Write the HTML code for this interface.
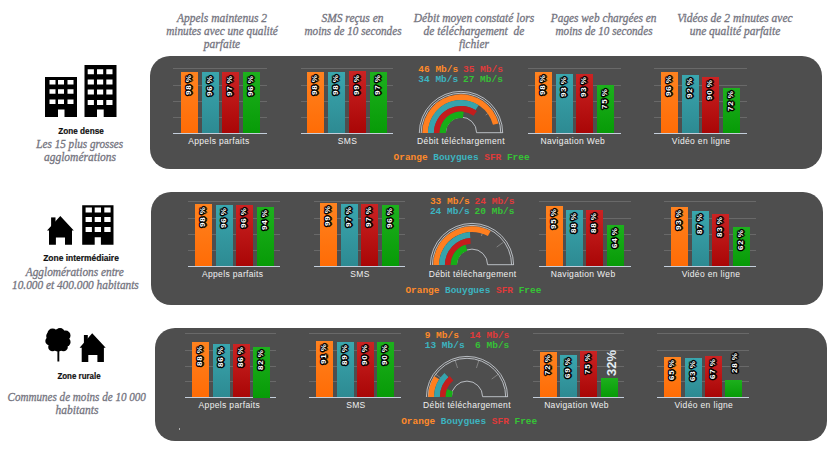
<!DOCTYPE html><html><head><meta charset="utf-8"><style>
html,body{margin:0;padding:0;background:#fff;}
body{width:833px;height:460px;position:relative;overflow:hidden;font-family:"Liberation Sans",sans-serif;}
.ab{position:absolute;}
.hd{position:absolute;font-family:"Liberation Serif",serif;font-style:italic;color:#75757f;-webkit-text-stroke:0.3px #75757f;font-size:11.5px;line-height:13px;text-align:center;white-space:nowrap;}
.zt{position:absolute;font-family:"Liberation Sans",sans-serif;font-weight:bold;color:#111;-webkit-text-stroke:0.2px #111;font-size:9px;line-height:10px;text-align:center;white-space:nowrap;transform:scaleX(0.91);}
.zs{position:absolute;font-family:"Liberation Serif",serif;font-style:italic;color:#75757f;-webkit-text-stroke:0.3px #75757f;font-size:11.5px;line-height:13px;text-align:center;white-space:nowrap;}
.pn{position:absolute;background:#4e4e4e;border-radius:20px;width:672px;height:113px;}
.gl{position:absolute;height:1px;background:#696969;}
.ax{position:absolute;height:1px;background:#c4cedb;}
.bar{position:absolute;width:17px;}
.bl{position:absolute;color:#fff;font-weight:bold;font-size:8px;line-height:9px;white-space:nowrap;transform-origin:0 0;transform:rotate(-90deg);
 text-shadow:1px 0 0 #000,-1px 0 0 #000,0 1px 0 #000,0 -1px 0 #000,1px 1px 0 #000,-1px -1px 0 #000,1px -1px 0 #000,-1px 1px 0 #000,1.5px 0 0 #000,-1.5px 0 0 #000,0 1.5px 0 #000,0 -1.5px 0 #000,0 0 2px #000;}
.cl{position:absolute;color:#f0f0f0;font-size:8.5px;line-height:8px;white-space:nowrap;text-align:center;width:120px;letter-spacing:0.35px;}
.mb{position:absolute;font-family:"Liberation Mono",monospace;font-weight:bold;font-size:9.5px;line-height:10px;white-space:nowrap;}
</style></head><body>

<div class="hd" style="left:142px;top:12.3px;width:160px">Appels maintenus 2<br><span style="display:inline-block;transform:scaleX(0.98)">minutes avec une qualité</span><br>parfaite</div>
<div class="hd" style="left:272.5px;top:12.3px;width:160px">SMS reçus en<br><span style="display:inline-block;transform:scaleX(0.97)">moins de 10 secondes</span></div>
<div class="hd" style="left:394px;top:12.3px;width:160px">Débit moyen constaté lors<br>de téléchargement&nbsp; de<br>fichier</div>
<div class="hd" style="left:523.5px;top:12.3px;width:160px"><span style="display:inline-block;transform:scaleX(0.985)">Pages web chargées en</span><br><span style="display:inline-block;transform:scaleX(0.97)">moins de 10 secondes</span></div>
<div class="hd" style="left:655px;top:12.3px;width:160px">Vidéos de 2 minutes avec<br>une qualité parfaite</div>
<div class="pn" style="left:150px;top:55.5px"></div>
<div class="pn" style="left:151.3px;top:192.1px"></div>
<div class="pn" style="left:154.7px;top:327.6px"></div>
<div class="gl" style="left:173.2px;top:67.9px;width:93.8px"></div>
<div class="gl" style="left:173.2px;top:84.9px;width:93.8px"></div>
<div class="gl" style="left:173.2px;top:100.9px;width:93.8px"></div>
<div class="gl" style="left:173.2px;top:116.9px;width:93.8px"></div>
<div class="ax" style="left:173.2px;top:132.9px;width:93.8px"></div>
<div class="bar" style="left:180.8px;top:72.0px;height:61.4px;background:linear-gradient(#ff821f,#ff6c06)"></div>
<div class="bl" style="left:183.8px;top:95.3px"><span style="letter-spacing:0.8px">98</span>&nbsp;%</div>
<div class="bar" style="left:202.0px;top:72.3px;height:61.1px;background:linear-gradient(#3aa6ae,#2d8a92)"></div>
<div class="bl" style="left:205.0px;top:95.6px"><span style="letter-spacing:0.8px">96</span>&nbsp;%</div>
<div class="bar" style="left:221.9px;top:72.2px;height:61.2px;background:linear-gradient(#cb2323,#a90606)"></div>
<div class="bl" style="left:224.9px;top:95.5px"><span style="letter-spacing:0.8px">97</span>&nbsp;%</div>
<div class="bar" style="left:243.2px;top:72.2px;height:61.2px;background:linear-gradient(#1db01d,#079b07)"></div>
<div class="bl" style="left:246.2px;top:95.5px"><span style="letter-spacing:0.8px">96</span>&nbsp;%</div>
<div class="cl" style="left:158.9px;top:137.1px">Appels parfaits</div>
<div class="gl" style="left:300.9px;top:67.9px;width:91.9px"></div>
<div class="gl" style="left:300.9px;top:84.9px;width:91.9px"></div>
<div class="gl" style="left:300.9px;top:100.9px;width:91.9px"></div>
<div class="gl" style="left:300.9px;top:116.9px;width:91.9px"></div>
<div class="ax" style="left:300.9px;top:132.9px;width:91.9px"></div>
<div class="bar" style="left:307.3px;top:71.7px;height:61.7px;background:linear-gradient(#ff821f,#ff6c06)"></div>
<div class="bl" style="left:310.3px;top:95.0px"><span style="letter-spacing:0.8px">98</span>&nbsp;%</div>
<div class="bar" style="left:328.3px;top:72.1px;height:61.3px;background:linear-gradient(#3aa6ae,#2d8a92)"></div>
<div class="bl" style="left:331.3px;top:95.4px"><span style="letter-spacing:0.8px">98</span>&nbsp;%</div>
<div class="bar" style="left:349.0px;top:71.2px;height:62.2px;background:linear-gradient(#cb2323,#a90606)"></div>
<div class="bl" style="left:352.0px;top:94.5px"><span style="letter-spacing:0.8px">99</span>&nbsp;%</div>
<div class="bar" style="left:370.0px;top:72.1px;height:61.3px;background:linear-gradient(#1db01d,#079b07)"></div>
<div class="bl" style="left:373.0px;top:95.4px"><span style="letter-spacing:0.8px">97</span>&nbsp;%</div>
<div class="cl" style="left:287.6px;top:137.1px">SMS</div>
<div class="gl" style="left:527.9px;top:67.9px;width:93.4px"></div>
<div class="gl" style="left:527.9px;top:84.9px;width:93.4px"></div>
<div class="gl" style="left:527.9px;top:100.9px;width:93.4px"></div>
<div class="gl" style="left:527.9px;top:116.9px;width:93.4px"></div>
<div class="ax" style="left:527.9px;top:132.9px;width:93.4px"></div>
<div class="bar" style="left:535.2px;top:71.7px;height:61.7px;background:linear-gradient(#ff821f,#ff6c06)"></div>
<div class="bl" style="left:538.2px;top:95.0px"><span style="letter-spacing:0.8px">98</span>&nbsp;%</div>
<div class="bar" style="left:555.9px;top:73.7px;height:59.7px;background:linear-gradient(#3aa6ae,#2d8a92)"></div>
<div class="bl" style="left:558.9px;top:97.0px"><span style="letter-spacing:0.8px">93</span>&nbsp;%</div>
<div class="bar" style="left:576.3px;top:73.7px;height:59.7px;background:linear-gradient(#cb2323,#a90606)"></div>
<div class="bl" style="left:579.3px;top:97.0px"><span style="letter-spacing:0.8px">93</span>&nbsp;%</div>
<div class="bar" style="left:597.0px;top:85.4px;height:48.0px;background:linear-gradient(#1db01d,#079b07)"></div>
<div class="bl" style="left:600.0px;top:108.7px"><span style="letter-spacing:0.8px">75</span>&nbsp;%</div>
<div class="cl" style="left:512.8px;top:137.1px">Navigation Web</div>
<div class="gl" style="left:653.8px;top:67.9px;width:93.2px"></div>
<div class="gl" style="left:653.8px;top:84.9px;width:93.2px"></div>
<div class="gl" style="left:653.8px;top:100.9px;width:93.2px"></div>
<div class="gl" style="left:653.8px;top:116.9px;width:93.2px"></div>
<div class="ax" style="left:653.8px;top:132.9px;width:93.2px"></div>
<div class="bar" style="left:661.0px;top:72.3px;height:61.1px;background:linear-gradient(#ff821f,#ff6c06)"></div>
<div class="bl" style="left:664.0px;top:95.6px"><span style="letter-spacing:0.8px">96</span>&nbsp;%</div>
<div class="bar" style="left:682.0px;top:74.7px;height:58.7px;background:linear-gradient(#3aa6ae,#2d8a92)"></div>
<div class="bl" style="left:685.0px;top:98.0px"><span style="letter-spacing:0.8px">92</span>&nbsp;%</div>
<div class="bar" style="left:702.0px;top:77.0px;height:56.4px;background:linear-gradient(#cb2323,#a90606)"></div>
<div class="bl" style="left:705.0px;top:100.3px"><span style="letter-spacing:0.8px">90</span>&nbsp;%</div>
<div class="bar" style="left:722.9px;top:88.0px;height:45.4px;background:linear-gradient(#1db01d,#079b07)"></div>
<div class="bl" style="left:725.9px;top:111.3px"><span style="letter-spacing:0.8px">72</span>&nbsp;%</div>
<div class="cl" style="left:641.1px;top:137.1px">Vidéo en ligne</div>
<div class="gl" style="left:187.8px;top:200.9px;width:92.2px"></div>
<div class="gl" style="left:187.8px;top:217.9px;width:92.2px"></div>
<div class="gl" style="left:187.8px;top:233.9px;width:92.2px"></div>
<div class="gl" style="left:187.8px;top:249.9px;width:92.2px"></div>
<div class="ax" style="left:187.8px;top:265.9px;width:92.2px"></div>
<div class="bar" style="left:194.8px;top:203.9px;height:62.5px;background:linear-gradient(#ff821f,#ff6c06)"></div>
<div class="bl" style="left:197.8px;top:227.2px"><span style="letter-spacing:0.8px">98</span>&nbsp;%</div>
<div class="bar" style="left:215.9px;top:205.0px;height:61.4px;background:linear-gradient(#3aa6ae,#2d8a92)"></div>
<div class="bl" style="left:218.9px;top:228.3px"><span style="letter-spacing:0.8px">96</span>&nbsp;%</div>
<div class="bar" style="left:236.0px;top:205.0px;height:61.4px;background:linear-gradient(#cb2323,#a90606)"></div>
<div class="bl" style="left:239.0px;top:228.3px"><span style="letter-spacing:0.8px">96</span>&nbsp;%</div>
<div class="bar" style="left:256.7px;top:207.0px;height:59.4px;background:linear-gradient(#1db01d,#079b07)"></div>
<div class="bl" style="left:259.7px;top:230.3px"><span style="letter-spacing:0.8px">94</span>&nbsp;%</div>
<div class="cl" style="left:172.7px;top:270.1px">Appels parfaits</div>
<div class="gl" style="left:313.7px;top:200.9px;width:91.3px"></div>
<div class="gl" style="left:313.7px;top:217.9px;width:91.3px"></div>
<div class="gl" style="left:313.7px;top:233.9px;width:91.3px"></div>
<div class="gl" style="left:313.7px;top:249.9px;width:91.3px"></div>
<div class="ax" style="left:313.7px;top:265.9px;width:91.3px"></div>
<div class="bar" style="left:320.0px;top:202.6px;height:63.8px;background:linear-gradient(#ff821f,#ff6c06)"></div>
<div class="bl" style="left:323.0px;top:225.9px"><span style="letter-spacing:0.8px">99</span>&nbsp;%</div>
<div class="bar" style="left:340.9px;top:203.7px;height:62.7px;background:linear-gradient(#3aa6ae,#2d8a92)"></div>
<div class="bl" style="left:343.9px;top:227.0px"><span style="letter-spacing:0.8px">97</span>&nbsp;%</div>
<div class="bar" style="left:361.0px;top:203.7px;height:62.7px;background:linear-gradient(#cb2323,#a90606)"></div>
<div class="bl" style="left:364.0px;top:227.0px"><span style="letter-spacing:0.8px">97</span>&nbsp;%</div>
<div class="bar" style="left:382.0px;top:204.8px;height:61.6px;background:linear-gradient(#1db01d,#079b07)"></div>
<div class="bl" style="left:385.0px;top:228.1px"><span style="letter-spacing:0.8px">96</span>&nbsp;%</div>
<div class="cl" style="left:300.1px;top:270.1px">SMS</div>
<div class="gl" style="left:538.7px;top:200.9px;width:92.3px"></div>
<div class="gl" style="left:538.7px;top:217.9px;width:92.3px"></div>
<div class="gl" style="left:538.7px;top:233.9px;width:92.3px"></div>
<div class="gl" style="left:538.7px;top:249.9px;width:92.3px"></div>
<div class="ax" style="left:538.7px;top:265.9px;width:92.3px"></div>
<div class="bar" style="left:545.7px;top:205.7px;height:60.7px;background:linear-gradient(#ff821f,#ff6c06)"></div>
<div class="bl" style="left:548.7px;top:229.0px"><span style="letter-spacing:0.8px">95</span>&nbsp;%</div>
<div class="bar" style="left:566.4px;top:209.9px;height:56.5px;background:linear-gradient(#3aa6ae,#2d8a92)"></div>
<div class="bl" style="left:569.4px;top:233.2px"><span style="letter-spacing:0.8px">88</span>&nbsp;%</div>
<div class="bar" style="left:586.2px;top:209.9px;height:56.5px;background:linear-gradient(#cb2323,#a90606)"></div>
<div class="bl" style="left:589.2px;top:233.2px"><span style="letter-spacing:0.8px">88</span>&nbsp;%</div>
<div class="bar" style="left:606.9px;top:225.0px;height:41.4px;background:linear-gradient(#1db01d,#079b07)"></div>
<div class="bl" style="left:609.9px;top:248.3px"><span style="letter-spacing:0.8px">64</span>&nbsp;%</div>
<div class="cl" style="left:523.1px;top:270.1px">Navigation Web</div>
<div class="gl" style="left:664.3px;top:200.9px;width:91.9px"></div>
<div class="gl" style="left:664.3px;top:217.9px;width:91.9px"></div>
<div class="gl" style="left:664.3px;top:233.9px;width:91.9px"></div>
<div class="gl" style="left:664.3px;top:249.9px;width:91.9px"></div>
<div class="ax" style="left:664.3px;top:265.9px;width:91.9px"></div>
<div class="bar" style="left:671.1px;top:206.8px;height:59.6px;background:linear-gradient(#ff821f,#ff6c06)"></div>
<div class="bl" style="left:674.1px;top:230.1px"><span style="letter-spacing:0.8px">93</span>&nbsp;%</div>
<div class="bar" style="left:692.2px;top:210.9px;height:55.5px;background:linear-gradient(#3aa6ae,#2d8a92)"></div>
<div class="bl" style="left:695.2px;top:234.2px"><span style="letter-spacing:0.8px">87</span>&nbsp;%</div>
<div class="bar" style="left:712.0px;top:213.6px;height:52.8px;background:linear-gradient(#cb2323,#a90606)"></div>
<div class="bl" style="left:715.0px;top:236.9px"><span style="letter-spacing:0.8px">83</span>&nbsp;%</div>
<div class="bar" style="left:732.5px;top:227.0px;height:39.4px;background:linear-gradient(#1db01d,#079b07)"></div>
<div class="bl" style="left:735.5px;top:250.3px"><span style="letter-spacing:0.8px">62</span>&nbsp;%</div>
<div class="cl" style="left:651.0px;top:270.1px">Vidéo en ligne</div>
<div class="gl" style="left:185.0px;top:332.8px;width:91.0px"></div>
<div class="gl" style="left:185.0px;top:349.7px;width:91.0px"></div>
<div class="gl" style="left:185.0px;top:365.7px;width:91.0px"></div>
<div class="gl" style="left:185.0px;top:381.0px;width:91.0px"></div>
<div class="ax" style="left:185.0px;top:397.0px;width:91.0px"></div>
<div class="bar" style="left:191.9px;top:342.3px;height:55.2px;background:linear-gradient(#ff821f,#ff6c06)"></div>
<div class="bl" style="left:194.9px;top:365.6px"><span style="letter-spacing:0.8px">88</span>&nbsp;%</div>
<div class="bar" style="left:212.5px;top:344.1px;height:53.4px;background:linear-gradient(#3aa6ae,#2d8a92)"></div>
<div class="bl" style="left:215.5px;top:367.4px"><span style="letter-spacing:0.8px">86</span>&nbsp;%</div>
<div class="bar" style="left:232.6px;top:344.1px;height:53.4px;background:linear-gradient(#cb2323,#a90606)"></div>
<div class="bl" style="left:235.6px;top:367.4px"><span style="letter-spacing:0.8px">86</span>&nbsp;%</div>
<div class="bar" style="left:253.2px;top:347.0px;height:50.5px;background:linear-gradient(#1db01d,#079b07)"></div>
<div class="bl" style="left:256.2px;top:370.3px"><span style="letter-spacing:0.8px">82</span>&nbsp;%</div>
<div class="cl" style="left:169.3px;top:401.2px">Appels parfaits</div>
<div class="gl" style="left:309.2px;top:332.8px;width:92.0px"></div>
<div class="gl" style="left:309.2px;top:349.7px;width:92.0px"></div>
<div class="gl" style="left:309.2px;top:365.7px;width:92.0px"></div>
<div class="gl" style="left:309.2px;top:381.0px;width:92.0px"></div>
<div class="ax" style="left:309.2px;top:397.0px;width:92.0px"></div>
<div class="bar" style="left:316.0px;top:340.8px;height:56.7px;background:linear-gradient(#ff821f,#ff6c06)"></div>
<div class="bl" style="left:319.0px;top:364.1px"><span style="letter-spacing:0.8px">91</span>&nbsp;%</div>
<div class="bar" style="left:336.8px;top:342.1px;height:55.4px;background:linear-gradient(#3aa6ae,#2d8a92)"></div>
<div class="bl" style="left:339.8px;top:365.4px"><span style="letter-spacing:0.8px">89</span>&nbsp;%</div>
<div class="bar" style="left:357.1px;top:342.1px;height:55.4px;background:linear-gradient(#cb2323,#a90606)"></div>
<div class="bl" style="left:360.1px;top:365.4px"><span style="letter-spacing:0.8px">90</span>&nbsp;%</div>
<div class="bar" style="left:377.3px;top:342.1px;height:55.4px;background:linear-gradient(#1db01d,#079b07)"></div>
<div class="bl" style="left:380.3px;top:365.4px"><span style="letter-spacing:0.8px">90</span>&nbsp;%</div>
<div class="cl" style="left:295.9px;top:401.2px">SMS</div>
<div class="gl" style="left:532.8px;top:332.8px;width:91.0px"></div>
<div class="gl" style="left:532.8px;top:349.7px;width:91.0px"></div>
<div class="gl" style="left:532.8px;top:365.7px;width:91.0px"></div>
<div class="gl" style="left:532.8px;top:381.0px;width:91.0px"></div>
<div class="ax" style="left:532.8px;top:397.0px;width:91.0px"></div>
<div class="bar" style="left:540.0px;top:351.9px;height:45.6px;background:linear-gradient(#ff821f,#ff6c06)"></div>
<div class="bl" style="left:543.0px;top:375.2px"><span style="letter-spacing:0.8px">72</span>&nbsp;%</div>
<div class="bar" style="left:560.2px;top:354.9px;height:42.6px;background:linear-gradient(#3aa6ae,#2d8a92)"></div>
<div class="bl" style="left:563.2px;top:378.2px"><span style="letter-spacing:0.8px">69</span>&nbsp;%</div>
<div class="bar" style="left:580.4px;top:350.9px;height:46.6px;background:linear-gradient(#cb2323,#a90606)"></div>
<div class="bl" style="left:583.4px;top:374.2px"><span style="letter-spacing:0.8px">75</span>&nbsp;%</div>
<div class="bar" style="left:600.9px;top:377.9px;height:19.6px;background:linear-gradient(#1db01d,#079b07)"></div>
<div class="cl" style="left:516.5px;top:401.2px">Navigation Web</div>
<div class="gl" style="left:657.4px;top:332.8px;width:91.4px"></div>
<div class="gl" style="left:657.4px;top:349.7px;width:91.4px"></div>
<div class="gl" style="left:657.4px;top:365.7px;width:91.4px"></div>
<div class="gl" style="left:657.4px;top:381.0px;width:91.4px"></div>
<div class="ax" style="left:657.4px;top:397.0px;width:91.4px"></div>
<div class="bar" style="left:664.1px;top:356.8px;height:40.7px;background:linear-gradient(#ff821f,#ff6c06)"></div>
<div class="bl" style="left:667.1px;top:380.1px"><span style="letter-spacing:0.8px">65</span>&nbsp;%</div>
<div class="bar" style="left:684.8px;top:357.8px;height:39.7px;background:linear-gradient(#3aa6ae,#2d8a92)"></div>
<div class="bl" style="left:687.8px;top:381.1px"><span style="letter-spacing:0.8px">63</span>&nbsp;%</div>
<div class="bar" style="left:705.2px;top:355.8px;height:41.7px;background:linear-gradient(#cb2323,#a90606)"></div>
<div class="bl" style="left:708.2px;top:379.1px"><span style="letter-spacing:0.8px">67</span>&nbsp;%</div>
<div class="bar" style="left:725.0px;top:380.3px;height:17.2px;background:linear-gradient(#1db01d,#079b07)"></div>
<div class="cl" style="left:643.8px;top:401.2px">Vidéo en ligne</div>
<svg class="ab" style="left:410.5px;top:82.69999999999999px" width="100" height="52" viewBox="410.5 82.69999999999999 100 52"><line x1="485.18" y1="114.77" x2="492.05" y2="109.78" stroke="#8e8e8e" stroke-width="0.8"/><line x1="469.93" y1="103.69" x2="472.55" y2="95.61" stroke="#8e8e8e" stroke-width="0.8"/><line x1="451.07" y1="103.69" x2="448.45" y2="95.61" stroke="#8e8e8e" stroke-width="0.8"/><line x1="435.82" y1="114.77" x2="428.95" y2="109.78" stroke="#8e8e8e" stroke-width="0.8"/><path d="M418.8,132.7 A41.7,41.7 0 0 1 502.2,132.7" fill="none" stroke="#c5c9cf" stroke-width="0.9"/><path d="M420.7,132.7 A39.8,39.8 0 0 1 500.3,132.7" fill="none" stroke="#c5c9cf" stroke-width="0.9"/><path d="M444.9,132.39999999999998 A15.6,15.6 0 0 1 476.1,132.39999999999998 L502.2,132.39999999999998" fill="none" stroke="#c5c9cf" stroke-width="0.9"/><path d="M421.80,132.70 A38.7,38.7 0 0 1 497.98,123.08 L492.46,124.49 A33,33 0 0 0 427.50,132.70 Z" fill="#ff7f1f"/><path d="M427.50,132.70 A33,33 0 0 1 478.18,104.84 L475.02,109.82 A27.1,27.1 0 0 0 433.40,132.70 Z" fill="#36a3ac"/><path d="M433.40,132.70 A27.1,27.1 0 0 1 476.43,110.78 L473.08,115.39 A21.4,21.4 0 0 0 439.10,132.70 Z" fill="#c41d1d"/><path d="M439.10,132.70 A21.4,21.4 0 0 1 463.18,111.47 L462.39,117.72 A15.1,15.1 0 0 0 445.40,132.70 Z" fill="#17ad17"/></svg>
<div class="mb" style="left:418.3px;top:65.2px;color:#ff8a2a">46 Mb/s</div>
<div class="mb" style="left:452.9px;top:65.2px;width:50px;text-align:right;color:#e03a3a">35 Mb/s</div>
<div class="mb" style="left:418.3px;top:75.1px;color:#3cb4c0">34 Mb/s</div>
<div class="mb" style="left:452.9px;top:75.1px;width:50px;text-align:right;color:#36c236">27 Mb/s</div>
<div class="cl" style="left:401.0px;top:136.5px">Débit téléchargement</div>
<div class="mb" style="left:393.6px;top:152.8px;font-size:9.45px"><span style="color:#ff8a2a">Orange</span>&nbsp;<span style="color:#3cb4c0">Bouygues</span>&nbsp;<span style="color:#e03a3a">SFR</span>&nbsp;<span style="color:#36c236">Free</span></div>
<svg class="ab" style="left:422.1px;top:215.3px" width="100" height="52" viewBox="422.1 215.3 100 52"><line x1="496.78" y1="247.37" x2="503.65" y2="242.38" stroke="#8e8e8e" stroke-width="0.8"/><line x1="481.53" y1="236.29" x2="484.15" y2="228.21" stroke="#8e8e8e" stroke-width="0.8"/><line x1="462.67" y1="236.29" x2="460.05" y2="228.21" stroke="#8e8e8e" stroke-width="0.8"/><line x1="447.42" y1="247.37" x2="440.55" y2="242.38" stroke="#8e8e8e" stroke-width="0.8"/><path d="M430.5,265.3 A41.6,41.6 0 0 1 513.7,265.3" fill="none" stroke="#c5c9cf" stroke-width="0.9"/><path d="M432.5,265.3 A39.6,39.6 0 0 1 511.70000000000005,265.3" fill="none" stroke="#c5c9cf" stroke-width="0.9"/><path d="M456.5,265.0 A15.6,15.6 0 0 1 487.70000000000005,265.0 L513.7,265.0" fill="none" stroke="#c5c9cf" stroke-width="0.9"/><path d="M433.40,265.30 A38.7,38.7 0 0 1 490.74,231.39 L488.00,236.38 A33,33 0 0 0 439.10,265.30 Z" fill="#ff7f1f"/><path d="M439.10,265.30 A33,33 0 0 1 470.03,232.37 L470.40,238.25 A27.1,27.1 0 0 0 445.00,265.30 Z" fill="#36a3ac"/><path d="M445.00,265.30 A27.1,27.1 0 0 1 470.40,238.25 L470.76,243.94 A21.4,21.4 0 0 0 450.70,265.30 Z" fill="#c41d1d"/><path d="M450.70,265.30 A21.4,21.4 0 0 1 465.49,244.95 L467.43,250.94 A15.1,15.1 0 0 0 457.00,265.30 Z" fill="#17ad17"/></svg>
<div class="mb" style="left:429.9px;top:197.4px;color:#ff8a2a">33 Mb/s</div>
<div class="mb" style="left:464.5px;top:197.4px;width:50px;text-align:right;color:#e03a3a">24 Mb/s</div>
<div class="mb" style="left:429.9px;top:207.3px;color:#3cb4c0">24 Mb/s</div>
<div class="mb" style="left:464.5px;top:207.3px;width:50px;text-align:right;color:#36c236">20 Mb/s</div>
<div class="cl" style="left:412.6px;top:269.8px">Débit téléchargement</div>
<div class="mb" style="left:405.4px;top:286px;font-size:9.45px"><span style="color:#ff8a2a">Orange</span>&nbsp;<span style="color:#3cb4c0">Bouygues</span>&nbsp;<span style="color:#e03a3a">SFR</span>&nbsp;<span style="color:#36c236">Free</span></div>
<svg class="ab" style="left:416.9px;top:346.8px" width="100" height="52" viewBox="416.9 346.8 100 52"><line x1="491.58" y1="378.87" x2="498.45" y2="373.88" stroke="#8e8e8e" stroke-width="0.8"/><line x1="476.33" y1="367.79" x2="478.95" y2="359.71" stroke="#8e8e8e" stroke-width="0.8"/><line x1="457.47" y1="367.79" x2="454.85" y2="359.71" stroke="#8e8e8e" stroke-width="0.8"/><line x1="442.22" y1="378.87" x2="435.35" y2="373.88" stroke="#8e8e8e" stroke-width="0.8"/><path d="M426.29999999999995,396.8 A40.6,40.6 0 0 1 507.5,396.8" fill="none" stroke="#c5c9cf" stroke-width="0.9"/><path d="M428.2,396.8 A38.7,38.7 0 0 1 505.59999999999997,396.8" fill="none" stroke="#c5c9cf" stroke-width="0.9"/><path d="M451.29999999999995,396.5 A15.6,15.6 0 0 1 482.5,396.5 L507.5,396.5" fill="none" stroke="#c5c9cf" stroke-width="0.9"/><path d="M428.20,396.80 A38.7,38.7 0 0 1 434.22,376.06 L439.04,379.12 A33,33 0 0 0 433.90,396.80 Z" fill="#ff7f1f"/><path d="M433.90,396.80 A33,33 0 0 1 444.31,372.74 L448.35,377.04 A27.1,27.1 0 0 0 439.80,396.80 Z" fill="#36a3ac"/><path d="M439.80,396.80 A27.1,27.1 0 0 1 449.63,375.92 L453.26,380.31 A21.4,21.4 0 0 0 445.50,396.80 Z" fill="#c41d1d"/><path d="M445.50,396.80 A21.4,21.4 0 0 1 447.00,388.92 L452.86,391.24 A15.1,15.1 0 0 0 451.80,396.80 Z" fill="#17ad17"/></svg>
<div class="mb" style="left:424.7px;top:330.6px;color:#ff8a2a">9 Mb/s</div>
<div class="mb" style="left:459.3px;top:330.6px;width:50px;text-align:right;color:#e03a3a">14 Mb/s</div>
<div class="mb" style="left:424.7px;top:340.5px;color:#3cb4c0">13 Mb/s</div>
<div class="mb" style="left:459.3px;top:340.5px;width:50px;text-align:right;color:#36c236">6 Mb/s</div>
<div class="cl" style="left:407.0px;top:400.5px">Débit téléchargement</div>
<div class="mb" style="left:401.2px;top:417.4px;font-size:9.45px"><span style="color:#ff8a2a">Orange</span>&nbsp;<span style="color:#3cb4c0">Bouygues</span>&nbsp;<span style="color:#e03a3a">SFR</span>&nbsp;<span style="color:#36c236">Free</span></div>
<svg class="ab" style="left:0;top:0" width="150" height="460" viewBox="0 0 150 460"><g fill="#000" fill-rule="evenodd"><path d="M45,77 h32 v40 h-32 Z M49.5,80 h6 v4.5 h-6 Z M58,80 h6 v4.5 h-6 Z M67.5,80 h6 v4.5 h-6 Z M49.5,89.3 h6 v4.5 h-6 Z M58,89.3 h6 v4.5 h-6 Z M67.5,89.3 h6 v4.5 h-6 Z M49.5,99.5 h6 v4.5 h-6 Z M58,99.5 h6 v4.5 h-6 Z M67.5,99.5 h6 v4.5 h-6 Z M58,109.5 h6.5 v7.50 h-6.5 Z"/><path d="M84.5,65 h32 v52 h-32 Z M87.7,69.3 h6.2 v5 h-6.2 Z M97,69.3 h6.2 v5 h-6.2 Z M106.3,69.3 h6.2 v5 h-6.2 Z M87.7,79.5 h6.2 v5 h-6.2 Z M97,79.5 h6.2 v5 h-6.2 Z M106.3,79.5 h6.2 v5 h-6.2 Z M87.7,89.5 h6.2 v5 h-6.2 Z M97,89.5 h6.2 v5 h-6.2 Z M106.3,89.5 h6.2 v5 h-6.2 Z M87.7,100 h6.2 v5 h-6.2 Z M97,100 h6.2 v5 h-6.2 Z M106.3,100 h6.2 v5 h-6.2 Z M97,109.5 h6.7 v7.50 h-6.7 Z"/><path d="M82.2,205.3 h31.3 v39.5 h-31.3 Z M85.6,207.6 h6.3 v5 h-6.3 Z M94.7,207.6 h6.3 v5 h-6.3 Z M104.3,207.6 h6.3 v5 h-6.3 Z M85.6,217.1 h6.3 v5 h-6.3 Z M94.7,217.1 h6.3 v5 h-6.3 Z M104.3,217.1 h6.3 v5 h-6.3 Z M85.6,227 h6.3 v5 h-6.3 Z M94.7,227 h6.3 v5 h-6.3 Z M104.3,227 h6.3 v5 h-6.3 Z M94.7,237.2 h6.2 v7.60 h-6.2 Z"/><path d="M60.3,216.1 L47,230.6 L49,230.6 L49,244.8 L55.9,244.8 L55.9,237.4 L65,237.4 L65,244.8 L72,244.8 L72,230.6 L73.8,230.6 Z"/><path d="M51.1,217.4 h4.4 v10 h-4.4 Z"/><path d="M92.2,333.3 L79.6,347.8 L81.7,347.8 L81.7,362 L88.3,362 L88.3,355 L97.4,355 L97.4,362 L103.9,362 L103.9,347.8 L105.7,347.8 Z"/><path d="M83.9,335 h3.9 v9 h-3.9 Z"/><path d="M57.4,349 h1.9 v12.5 h-1.9 Z"/><circle cx="58.3" cy="340" r="10.8"/><circle cx="52.5" cy="333.5" r="5"/><circle cx="60" cy="332.8" r="4.8"/><circle cx="65.5" cy="335.5" r="5"/><circle cx="66" cy="342" r="4.6"/><circle cx="63.5" cy="347" r="4.3"/><circle cx="58" cy="347.5" r="4"/><circle cx="52.5" cy="347" r="4.3"/><circle cx="49.6" cy="341" r="4.3"/><circle cx="50.5" cy="336" r="4.3"/></g></svg>
<div class="zt" style="left:31px;top:125.5px;width:100px">Zone dense</div>
<div class="zs" style="left:0px;top:138.3px;width:160px"><span style="display:inline-block;transform:scaleX(0.97)">Les 15 plus grosses</span><br>agglomérations</div>
<div class="zt" style="left:20.8px;top:253.2px;width:120px;transform:scaleX(0.94)">Zone intermédiaire</div>
<div class="zs" style="left:-5px;top:266.3px;width:160px"><span style="display:inline-block;transform:scaleX(0.985)">Agglomérations entre</span><br><span style="display:inline-block;transform:scaleX(0.985)">10.000 et 400.000 habitants</span></div>
<div class="zt" style="left:29px;top:370.8px;width:100px;transform:scaleX(0.88)">Zone rurale</div>
<div class="zs" style="left:-3px;top:390.8px;width:160px"><span style="display:inline-block;transform:scaleX(0.965)">Communes de moins de 10 000</span><br>habitants</div>
<div class="ab" style="left:604.6px;top:375.5px;transform-origin:0 0;transform:rotate(-90deg);color:#e4edf5;font-weight:bold;font-size:13px;line-height:13px;white-space:nowrap">32%</div>
<div class="bl" style="left:729.5px;top:373px"><span style="letter-spacing:0.8px">28</span>&nbsp;%</div>
<div class="ab" style="left:179px;top:428px;width:1px;height:2px;background:#b0b0b0"></div>
</body></html>
